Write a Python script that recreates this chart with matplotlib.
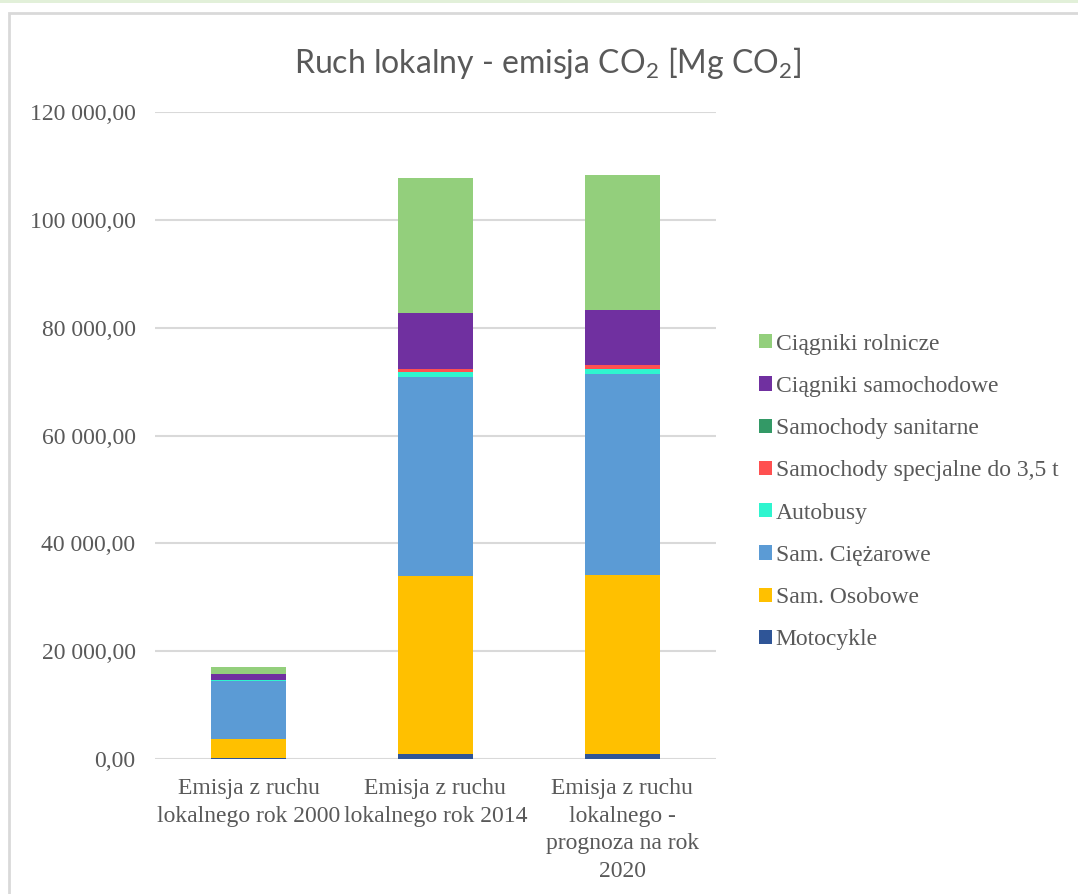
import matplotlib
matplotlib.use("Agg")
import matplotlib.pyplot as plt
import numpy as np
from matplotlib.ticker import FuncFormatter
from matplotlib.patches import Rectangle

categories = ["Emisja z ruchu\nlokalnego rok 2000",
              "Emisja z ruchu\nlokalnego rok 2014",
              "Emisja z ruchu\nlokalnego -\nprognoza na rok\n2020"]

# values in Mg CO2, bottom to top
motocykle = [100, 1000, 1000]
osobowe = [3700, 32900, 33100]
ciezarowe = [10700, 37000, 37400]
autobusy = [150, 900, 800]
specjalne = [50, 500, 700]
sanitarne = [20, 80, 80]
ciagniki_sam = [1100, 10300, 10200]
ciagniki_rol = [1240, 25000, 25100]

series = [
    ("Motocykle", motocykle, "#2F5597"),
    ("Sam. Osobowe", osobowe, "#FFC000"),
    ("Sam. Ciężarowe", ciezarowe, "#5B9BD5"),
    ("Autobusy", autobusy, "#2FF5CF"),
    ("Samochody specjalne do 3,5 t", specjalne, "#FF5050"),
    ("Samochody sanitarne", sanitarne, "#339966"),
    ("Ciągniki samochodowe", ciagniki_sam, "#7030A0"),
    ("Ciągniki rolnicze", ciagniki_rol, "#93CF7C"),
]

plt.rcParams["font.family"] = ["Liberation Serif", "DejaVu Serif"]
plt.rcParams["mathtext.fontset"] = "custom"
plt.rcParams["mathtext.rm"] = "Lato"
plt.rcParams["mathtext.it"] = "Lato"

grey = "#595959"
fig = plt.figure(figsize=(10.78, 8.94), dpi=100)
ax = fig.add_axes([0.1438, 0.151, 0.5202, 0.7237])

x = np.arange(len(categories))
bottom = np.zeros(len(categories))
bars = []
for name, vals, col in series:
    b = ax.bar(x, vals, 0.40, bottom=bottom, color=col, label=name, zorder=3)
    bars.append(b)
    bottom += np.array(vals)

ax.set_xlim(-0.5, 2.5)
ax.set_ylim(0, 120000)
ax.set_yticks(np.arange(0, 120001, 20000))
ax.yaxis.set_major_formatter(FuncFormatter(
    lambda v, p: "{:,.2f}".format(v).replace(",", " ").replace(".", ",")))
ax.grid(axis="y", color="#d9d9d9", linewidth=1.5, zorder=0)
for s in ax.spines.values():
    s.set_visible(False)
ax.tick_params(length=0, labelsize=17, colors=grey)
ax.tick_params(axis="y", pad=14)
ax.tick_params(axis="x", pad=14)
ax.set_xticks(x)
ax.set_xticklabels(categories, linespacing=1.4)

fig.text(0.508, 0.93, r"Ruch lokalny - emisja CO$_2$ [Mg CO$_2$]",
         ha="center", va="center", fontsize=23, color=grey, family="Lato")

handles = [b for b in bars[::-1]]
labels = [s[0] for s in series[::-1]]
fig.legend(handles, labels, loc="center left", bbox_to_anchor=(0.684, 0.4497),
           frameon=False, fontsize=17, labelcolor=grey, handlelength=0.55,
           handleheight=0.55, handletextpad=0.18, labelspacing=0.9)

# chart frame
fig.patches.append(Rectangle((9 / 1078, -0.1), 1.2, (894 - 13) / 894 + 0.1,
                             transform=fig.transFigure, fill=False,
                             edgecolor="#d9d9d9", linewidth=2))
fig.patches.append(Rectangle((0, 1 - 3 / 894), 1, 3 / 894, transform=fig.transFigure,
                             color="#e2f0d9", linewidth=0))

fig.savefig("out.png", dpi=100)
